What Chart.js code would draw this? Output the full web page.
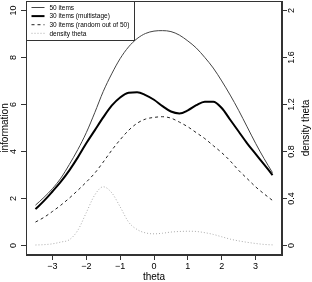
<!DOCTYPE html>
<html>
<head>
<meta charset="utf-8">
<script src="https://cdn.jsdelivr.net/npm/chart.js@4"></script>
<style>
  html, body { margin: 0; padding: 0; background: #fff; }
  canvas { display: block; }
</style>
</head>
<body>
<canvas id="graph" width="312" height="282"></canvas>
<script>
// -------------------------
// DATA
// -------------------------
const theta = [-3.5, -3.25, -3, -2.75, -2.5, -2.25, -2, -1.75, -1.5, -1.25, -1, -0.75, -0.5, -0.25,
  0, 0.25, 0.5, 0.75, 1, 1.25, 1.5, 1.75, 2, 2.25, 2.5, 2.75, 3, 3.25, 3.5];

const info50 = [1.72, 2.05, 2.42, 2.87, 3.45, 4.08, 4.8, 5.65, 6.55, 7.3, 7.95, 8.45, 8.8, 9.02,
  9.12, 9.14, 9.1, 8.95, 8.7, 8.4, 8.0, 7.55, 7.0, 6.4, 5.75, 5.05, 4.35, 3.7, 3.1];

const infoMulti = [1.55, 1.9, 2.3, 2.72, 3.2, 3.75, 4.35, 4.9, 5.45, 5.95, 6.3, 6.5, 6.52, 6.4,
  6.2, 5.93, 5.7, 5.62, 5.75, 5.97, 6.12, 6.12, 5.85, 5.35, 4.85, 4.35, 3.9, 3.45, 3.0];

const infoRandom = [1.0, 1.2, 1.45, 1.72, 2.02, 2.35, 2.7, 3.08, 3.55, 4.05, 4.5, 4.9, 5.2, 5.38,
  5.45, 5.48, 5.42, 5.25, 5.05, 4.8, 4.55, 4.25, 3.95, 3.6, 3.2, 2.85, 2.5, 2.2, 1.92];

const density = [0.005, 0.008, 0.015, 0.03, 0.05, 0.13, 0.28, 0.43, 0.5, 0.45, 0.33, 0.2, 0.137, 0.108,
  0.1, 0.105, 0.115, 0.12, 0.122, 0.12, 0.11, 0.095, 0.075, 0.055, 0.04, 0.028, 0.018, 0.01, 0.006];

const xTicks = [-3, -2, -1, 0, 1, 2, 3];
const yTicks = [0, 2, 4, 6, 8, 10];
const y1Ticks = [0, 0.4, 0.8, 1.2, 1.6, 2];
const y1Labels = ["0", "0.4", "0.8", "1.2", "1.6", "2"];

const seriesNames = ["50 items", "30 items (multistage)", "30 items (random out of 50)", "density theta"];

const FONT = "'Liberation Sans', Arial, sans-serif";

function pts(ys) {
  return theta.map((t, i) => ({ x: t, y: ys[i] }));
}

// -------------------------
// EXTRA DRAWING (box, rotated labels, legend)
// -------------------------
const rStyle = {
  id: "rStyle",
  afterDraw(chart) {
    const ctx = chart.ctx;
    const a = chart.chartArea;
    const ys = chart.scales.y;
    const y1s = chart.scales.y1;
    const xs = chart.scales.x;

    ctx.save();
    // box
    ctx.strokeStyle = "#333";
    ctx.lineWidth = 1;
    ctx.setLineDash([]);
    ctx.strokeRect(Math.round(a.left) + 0.5, Math.round(a.top) + 0.5,
      Math.round(a.right - a.left) - 1, Math.round(a.bottom - a.top) - 1);

    ctx.fillStyle = "#000";
    ctx.textAlign = "center";
    ctx.textBaseline = "middle";

    // left tick labels rotated
    ctx.font = "9px " + FONT;
    yTicks.forEach(v => {
      const py = ys.getPixelForValue(v);
      ctx.save();
      ctx.translate(14, py);
      ctx.rotate(-Math.PI / 2);
      ctx.fillText(String(v), 0, 0);
      ctx.restore();
    });
    // right tick labels rotated
    y1Ticks.forEach((v, i) => {
      const py = y1s.getPixelForValue(v);
      ctx.save();
      ctx.translate(292, py);
      ctx.rotate(-Math.PI / 2);
      ctx.fillText(y1Labels[i], 0, 0);
      ctx.restore();
    });

    // axis titles
    ctx.font = "10px " + FONT;
    ctx.save();
    ctx.translate(5, (a.top + a.bottom) / 2);
    ctx.rotate(-Math.PI / 2);
    ctx.fillText("information", 0, 0);
    ctx.restore();

    ctx.save();
    ctx.translate(306, (a.top + a.bottom) / 2);
    ctx.rotate(-Math.PI / 2);
    ctx.fillText("density theta", 0, 0);
    ctx.restore();

    ctx.fillText("theta", (xs.left + xs.right) / 2, 277.5);

    // legend
    const lx = Math.round(a.left) + 0.5;
    const ly = Math.round(a.top) + 0.5;
    ctx.fillStyle = "#fff";
    ctx.fillRect(lx, ly, 108, 39);
    ctx.strokeStyle = "#333";
    ctx.strokeRect(lx, ly, 108, 39);
    ctx.font = "6.5px " + FONT;
    ctx.textAlign = "left";
    chart.data.datasets.forEach((ds, i) => {
      const yy = ly + 6 + i * 8.6;
      ctx.strokeStyle = ds.borderColor;
      ctx.lineWidth = ds.borderWidth;
      ctx.setLineDash(ds.borderDash || []);
      ctx.beginPath();
      ctx.moveTo(lx + 5, yy);
      ctx.lineTo(lx + 18, yy);
      ctx.stroke();
      ctx.fillStyle = "#000";
      ctx.fillText(ds.label, lx + 23, yy + 0.5);
    });
    ctx.restore();
  }
};

// -------------------------
// INIT CHART
// -------------------------
function initChart() {
  const ctx = document.getElementById("graph").getContext("2d");

  new Chart(ctx, {
    type: "line",
    data: {
      datasets: [
        { label: seriesNames[0], data: pts(info50), borderColor: "#444", borderWidth: 1, yAxisID: "y" },
        { label: seriesNames[1], data: pts(infoMulti), borderColor: "#000", borderWidth: 2, yAxisID: "y" },
        { label: seriesNames[2], data: pts(infoRandom), borderColor: "#222", borderWidth: 1, borderDash: [3, 3], yAxisID: "y" },
        { label: seriesNames[3], data: pts(density), borderColor: "#aaa", borderWidth: 1, borderDash: [1, 2], yAxisID: "y1" }
      ]
    },
    options: {
      responsive: false,
      animation: false,
      events: [],
      layout: { padding: { top: 1, left: 0, right: 0, bottom: 0 } },
      elements: {
        point: { radius: 0 },
        line: { cubicInterpolationMode: "monotone", fill: false }
      },
      plugins: { legend: { display: false }, tooltip: { enabled: false } },
      scales: {
        x: {
          type: "linear",
          min: -3.78,
          max: 3.78,
          afterBuildTicks: s => { s.ticks = xTicks.map(v => ({ value: v })); },
          afterFit: s => { s.height = 27; },
          grid: { drawOnChartArea: false, drawTicks: true, tickLength: 5, color: "#333" },
          border: { display: true, color: "#333" },
          ticks: {
            padding: 1,
            color: "#000",
            font: { family: FONT, size: 9 },
            maxRotation: 0,
            callback: v => (v < 0 ? "\u2212" + Math.abs(v) : String(v))
          }
        },
        y: {
          type: "linear",
          position: "left",
          min: -0.4,
          max: 10.4,
          afterBuildTicks: s => { s.ticks = yTicks.map(v => ({ value: v })); },
          afterFit: s => { s.width = 26; },
          grid: { drawOnChartArea: false, drawTicks: true, tickLength: 5, color: "#333" },
          border: { display: true, color: "#333" },
          ticks: { display: false }
        },
        y1: {
          type: "linear",
          position: "right",
          min: -0.08,
          max: 2.08,
          afterBuildTicks: s => { s.ticks = y1Ticks.map(v => ({ value: v })); },
          afterFit: s => { s.width = 30; },
          grid: { drawOnChartArea: false, drawTicks: true, tickLength: 5, color: "#333" },
          border: { display: true, color: "#333" },
          ticks: { display: false }
        }
      }
    },
    plugins: [rStyle]
  });
}

// -------------------------
// START
// -------------------------
initChart();
</script>
</body>
</html>
